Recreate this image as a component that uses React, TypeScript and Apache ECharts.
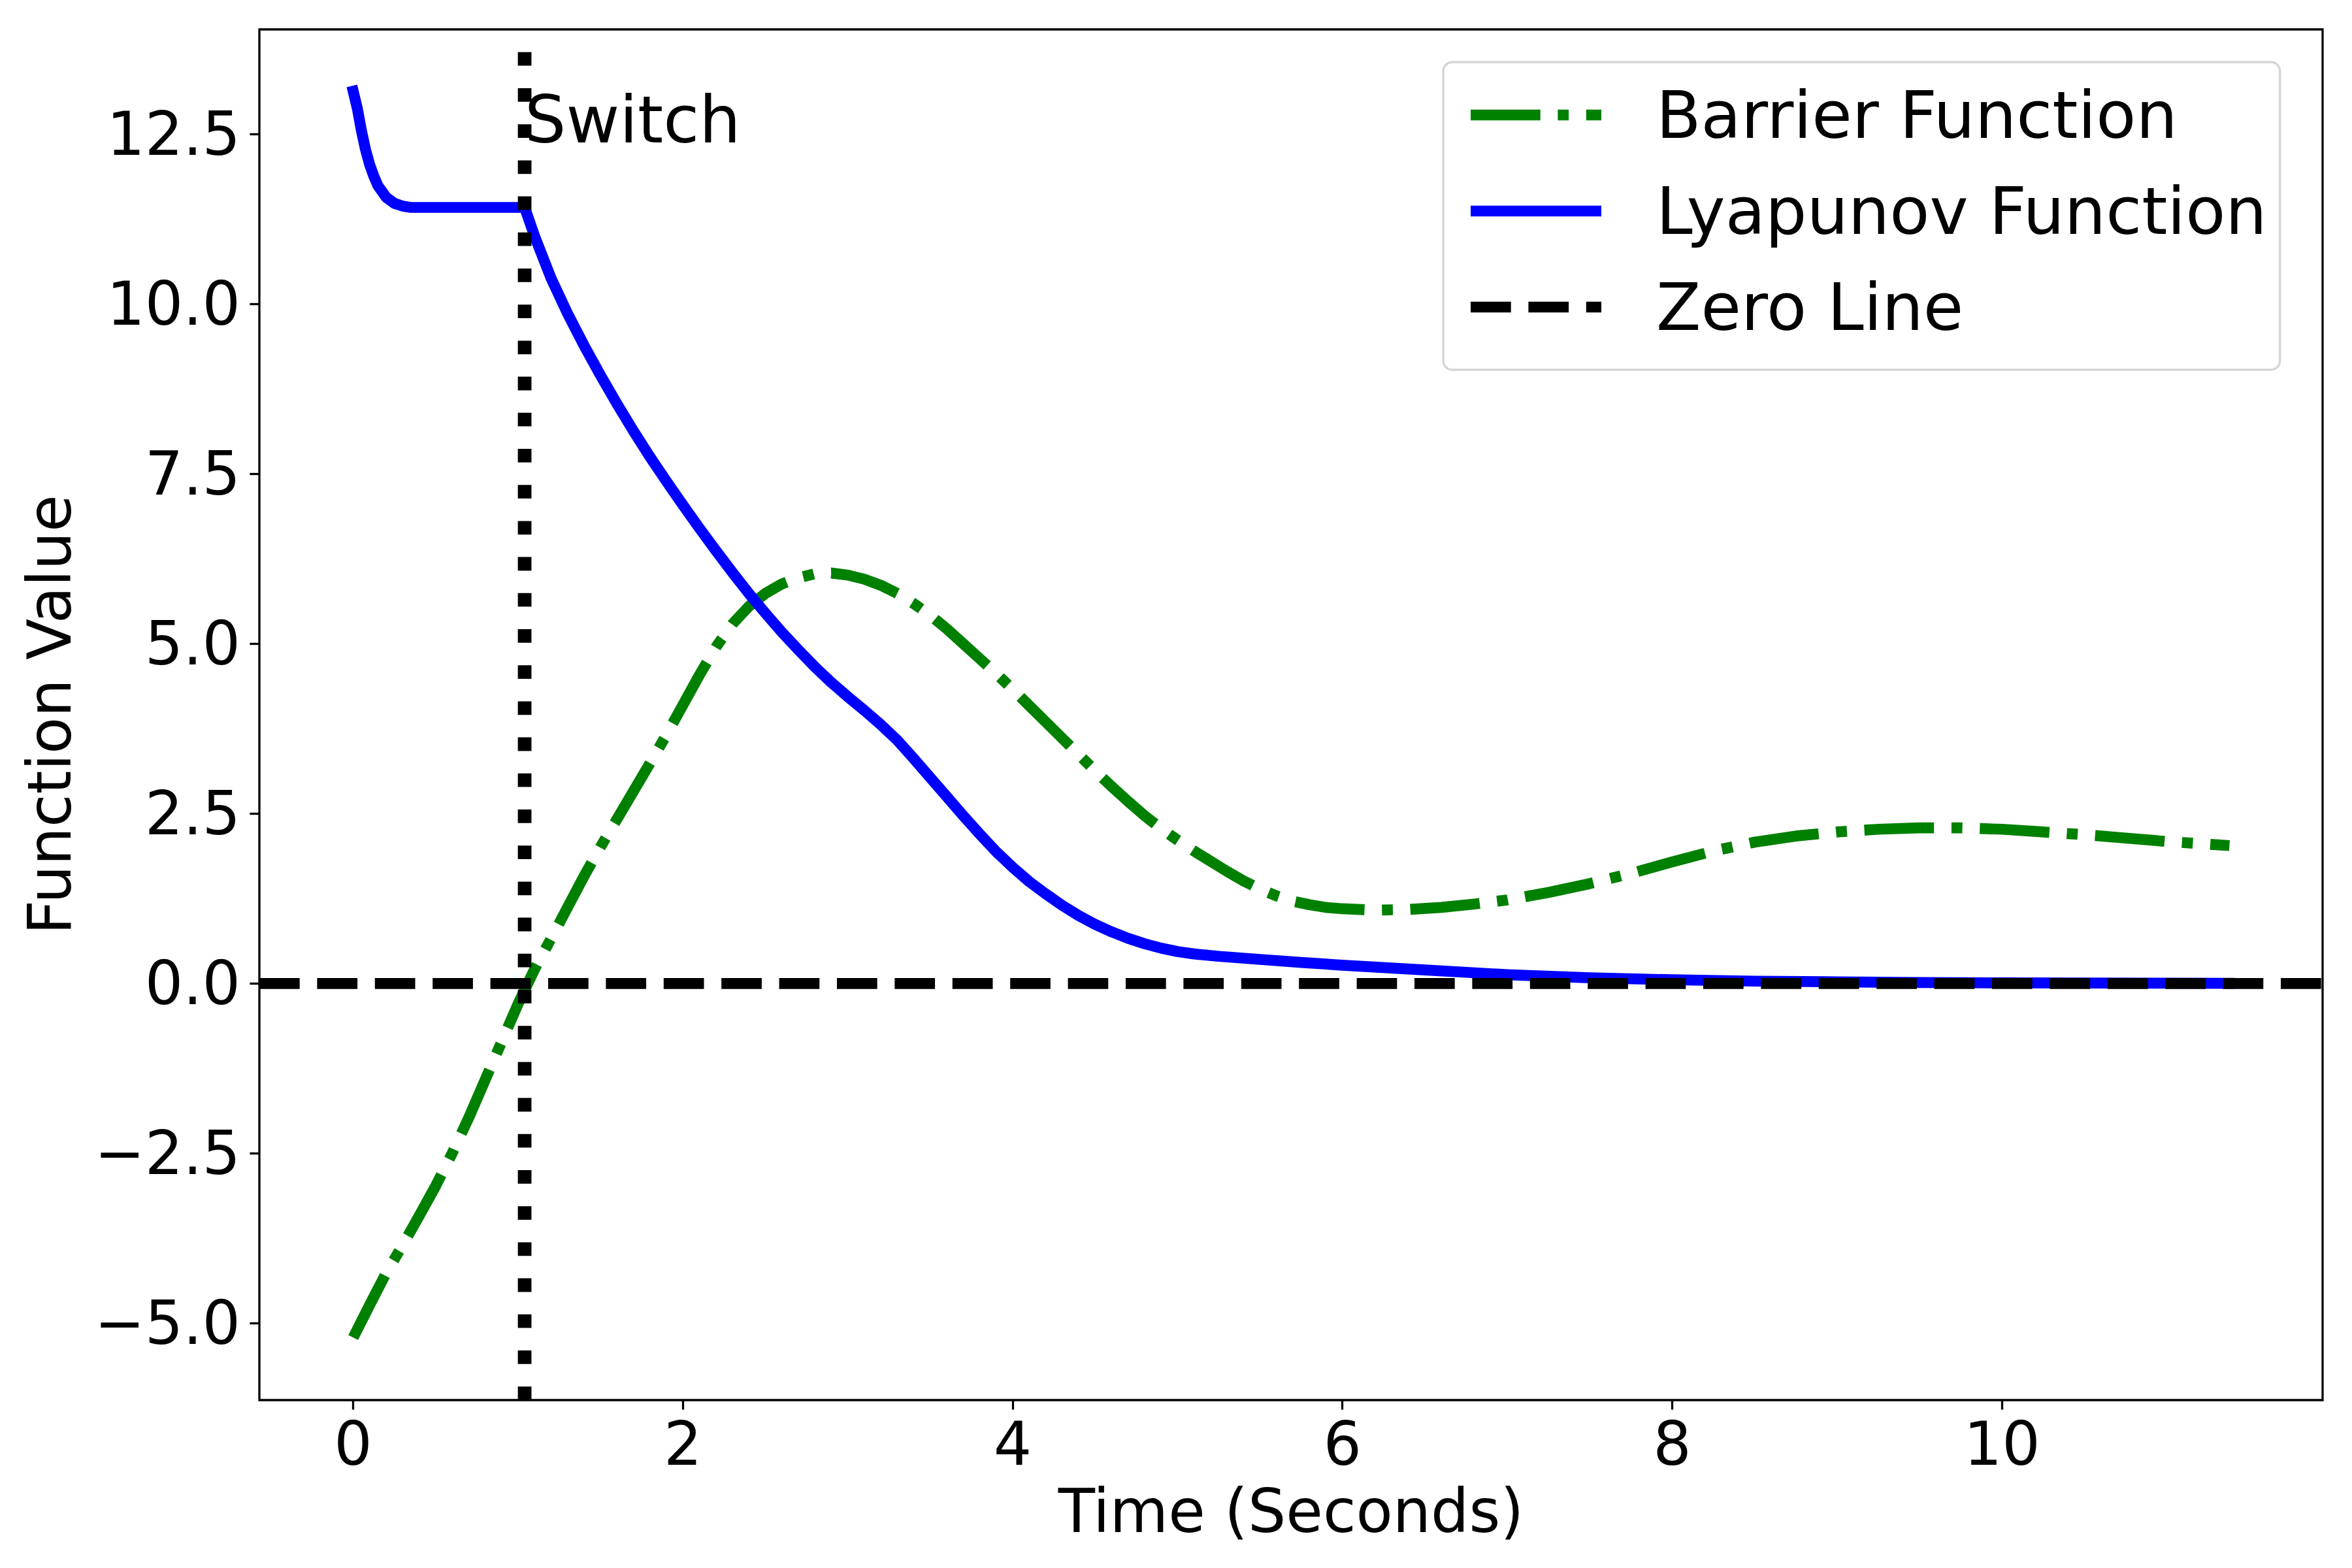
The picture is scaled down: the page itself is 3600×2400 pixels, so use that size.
import React, { useEffect, useRef } from 'react';
import * as echarts from 'echarts';

// ---- data ----
const LYAP_T = [
  0, 0.025, 0.05, 0.075, 0.1, 0.125, 0.15, 0.2, 0.25, 0.3, 0.35, 0.5, 0.7, 0.9, 1.04,
  1.1, 1.2, 1.3, 1.4, 1.5, 1.6, 1.7, 1.8, 1.9, 2.0,
  2.1, 2.2, 2.3, 2.4, 2.5, 2.6, 2.7, 2.8, 2.9, 3.0,
  3.1, 3.2, 3.3, 3.4, 3.5, 3.6, 3.7, 3.8, 3.9, 4.0,
  4.1, 4.2, 4.3, 4.4, 4.5, 4.6, 4.7, 4.8, 4.9, 5.0,
  5.1, 5.25, 5.5, 5.75, 6.0,
  6.5, 7.0, 7.5, 8.0, 8.5, 9.0, 9.5, 10.0, 10.5, 11.0, 11.38,
];
const LYAP_V = [
  13.13, 12.88, 12.55, 12.27, 12.05, 11.88, 11.74, 11.57, 11.48, 11.44, 11.42, 11.42, 11.42, 11.42, 11.42,
  11.0, 10.38, 9.86, 9.39, 8.95, 8.53, 8.13, 7.75, 7.39, 7.04,
  6.7, 6.37, 6.05, 5.74, 5.45, 5.17, 4.91, 4.66, 4.43, 4.22,
  4.02, 3.81, 3.58, 3.31, 3.03, 2.75, 2.47, 2.2, 1.94, 1.71,
  1.5, 1.32, 1.15, 1.0, 0.87, 0.76, 0.665, 0.585, 0.52, 0.47,
  0.435, 0.4, 0.355, 0.31, 0.27,
  0.2, 0.13, 0.085, 0.055, 0.035, 0.025, 0.015, 0.01, 0.007, 0.005, 0.003,
];

const BARRIER_T = [
  0, 0.1, 0.2, 0.3, 0.4, 0.5, 0.6, 0.7, 0.8, 0.9,
  1.0, 1.1, 1.2, 1.3, 1.4, 1.5, 1.6, 1.7, 1.8, 1.9,
  2.0, 2.1, 2.2, 2.3, 2.4, 2.5, 2.6, 2.7, 2.8, 2.9,
  3.0, 3.1, 3.2, 3.3, 3.4, 3.5, 3.6, 3.7, 3.8, 3.9,
  4.0, 4.1, 4.2, 4.3, 4.4, 4.5, 4.6, 4.7, 4.8, 4.9,
  5.0, 5.1, 5.2, 5.3, 5.4, 5.5, 5.6, 5.7, 5.8, 5.9,
  6.0, 6.2, 6.4, 6.6, 6.8, 7.0,
  7.25, 7.5, 7.75, 8.0, 8.25, 8.5, 8.75, 9.0, 9.25, 9.5, 9.75, 10.0, 10.25, 10.5, 10.75, 11.0, 11.25, 11.38,
];
const BARRIER_V = [
  -5.21, -4.73, -4.26, -3.85, -3.42, -2.98, -2.5, -1.98, -1.42, -0.86,
  -0.3, 0.21, 0.66, 1.12, 1.58, 2.01, 2.42, 2.83, 3.24, 3.66,
  4.1, 4.54, 4.95, 5.29, 5.55, 5.74, 5.88, 5.97, 6.03, 6.04,
  6.01, 5.95, 5.86, 5.74, 5.59, 5.42, 5.22, 5.0, 4.78, 4.56,
  4.33, 4.09, 3.85, 3.61, 3.37, 3.13, 2.9, 2.68, 2.47, 2.28,
  2.11, 1.95, 1.8, 1.65, 1.51, 1.39, 1.29, 1.21, 1.16, 1.12,
  1.1, 1.08, 1.09, 1.12, 1.17, 1.23,
  1.34, 1.47, 1.62, 1.79, 1.95, 2.08, 2.17, 2.23, 2.27, 2.29, 2.29, 2.27, 2.23, 2.19, 2.14, 2.09, 2.05, 2.03,
];

const SWITCH_TIME = 1.04;
const SWITCH_LABEL_Y = 12.38;
const ZERO_VALUE = 0;

const X_TICKS = [0, 2, 4, 6, 8, 10];
const Y_TICKS = [-5, -2.5, 0, 2.5, 5, 7.5, 10, 12.5];
const X_RANGE = [-0.569, 11.945];
const Y_RANGE = [-6.13, 14.04];

const NAME_BARRIER = 'Barrier Function';
const NAME_LYAP = 'Lyapunov Function';
const NAME_ZERO = 'Zero Line';
const NAME_SWITCH = 'Switch';
const X_TITLE = 'Time (Seconds)';
const Y_TITLE = 'Function Value';

const FONT = 'DejaVu Sans';

// legend handle glyphs (200 x 16.7), matching the line dash patterns
const ICON_DASHDOT = 'path://M0,0H106.7V16.7H0Z M133.4,0H150.1V16.7H133.4Z M176.8,0H200V16.7H176.8Z';
const ICON_SOLID = 'path://M0,0H200V16.7H0Z';
const ICON_DASHED = 'path://M0,0H61.7V16.7H0Z M88.4,0H150.1V16.7H88.4Z M176.8,0H200V16.7H176.8Z';

export default function App() {
  const ref = useRef<HTMLDivElement>(null);

  useEffect(() => {
    document.body.style.margin = '0';
    const chart = echarts.init(ref.current as HTMLDivElement, null, {
      renderer: 'svg',
      width: 3600,
      height: 2400,
    });
    const zip = (t: number[], v: number[]) => t.map((x, i) => [x, v[i]]);
    const lw = 16.7;

    chart.setOption({
      animation: false,
      backgroundColor: '#ffffff',
      grid: {
        left: 397,
        top: 45,
        width: 3158,
        height: 2098,
        show: true,
        borderColor: '#000000',
        borderWidth: 3.3,
        backgroundColor: 'transparent',
        containLabel: false,
      },
      xAxis: {
        type: 'value',
        min: X_RANGE[0],
        max: X_RANGE[1],
        name: X_TITLE,
        nameLocation: 'middle',
        nameGap: 124,
        nameTextStyle: { fontSize: 92, fontFamily: FONT, color: '#000', lineHeight: 92 },
        axisLine: { show: false, onZero: false },
        axisTick: {
          show: true,
          customValues: X_TICKS,
          length: 14.6,
          lineStyle: { color: '#000', width: 3.3 },
        },
        axisLabel: {
          customValues: X_TICKS,
          fontSize: 92,
          fontFamily: FONT,
          color: '#000',
          margin: 21,
          lineHeight: 92,
          formatter: (v: number) => String(Math.round(v)),
        },
        splitLine: { show: false },
      },
      yAxis: {
        type: 'value',
        min: Y_RANGE[0],
        max: Y_RANGE[1],
        name: Y_TITLE,
        nameLocation: 'middle',
        nameGap: 275,
        nameTextStyle: { fontSize: 92, fontFamily: FONT, color: '#000', lineHeight: 92 },
        axisLine: { show: false, onZero: false },
        axisTick: {
          show: true,
          customValues: Y_TICKS,
          length: 14.6,
          lineStyle: { color: '#000', width: 3.3 },
        },
        axisLabel: {
          customValues: Y_TICKS,
          fontSize: 92,
          fontFamily: FONT,
          color: '#000',
          margin: 29,
          lineHeight: 92,
          formatter: (v: number) => (v < 0 ? '\u2212' : '') + Math.abs(v).toFixed(1),
        },
        splitLine: { show: false },
      },
      legend: {
        data: [
          { name: NAME_BARRIER, icon: ICON_DASHDOT, itemStyle: { color: '#008000', borderWidth: 0 } },
          { name: NAME_LYAP, icon: ICON_SOLID, itemStyle: { color: '#0000ff', borderWidth: 0 } },
          { name: NAME_ZERO, icon: ICON_DASHED, itemStyle: { color: '#000000', borderWidth: 0 } },
        ],
        orient: 'vertical',
        left: 2209,
        top: 95,
        padding: [31, 20, 46, 42],
        itemWidth: 200,
        itemHeight: 16.7,
        itemGap: 47,
        backgroundColor: '#ffffff',
        borderColor: '#d5d5d5',
        borderWidth: 3.3,
        borderRadius: 14,
        selectedMode: false,
        textStyle: {
          fontSize: 100,
          fontFamily: FONT,
          color: '#000',
          lineHeight: 100,
          padding: [0, 0, 0, 79],
        },
      },
      series: [
        {
          name: NAME_BARRIER,
          type: 'line',
          data: zip(BARRIER_T, BARRIER_V),
          showSymbol: false,
          symbol: 'none',
          smooth: false,
          lineStyle: { color: '#008000', width: lw, type: [106.7, 26.7, 16.7, 26.7], cap: 'butt', join: 'round' },
          itemStyle: { color: '#008000' },
          z: 3,
        },
        {
          name: NAME_LYAP,
          type: 'line',
          data: zip(LYAP_T, LYAP_V),
          showSymbol: false,
          symbol: 'none',
          smooth: false,
          lineStyle: { color: '#0000ff', width: lw, type: 'solid', cap: 'square', join: 'round' },
          itemStyle: { color: '#0000ff' },
          z: 4,
        },
        {
          name: NAME_ZERO,
          type: 'line',
          data: [
            [X_RANGE[0], ZERO_VALUE],
            [X_RANGE[1], ZERO_VALUE],
          ],
          showSymbol: false,
          symbol: 'none',
          lineStyle: { color: '#000000', width: lw, type: [61.7, 26.7], cap: 'butt' },
          itemStyle: { color: '#000000' },
          z: 5,
        },
        {
          name: NAME_SWITCH,
          type: 'line',
          data: [
            [SWITCH_TIME, Y_RANGE[0]],
            [SWITCH_TIME, Y_RANGE[1]],
          ],
          showSymbol: false,
          symbol: 'none',
          lineStyle: { color: '#000000', width: 20.8, type: [20.8, 34.4], cap: 'butt' },
          itemStyle: { color: '#000000' },
          z: 6,
        },
      ],
    });

    const p = chart.convertToPixel({ gridIndex: 0 }, [SWITCH_TIME, SWITCH_LABEL_Y]) as number[];
    chart.setOption({
      graphic: [
        {
          type: 'text',
          x: p[0],
          y: p[1] - 34.6,
          z: 10,
          style: {
            text: NAME_SWITCH,
            fontSize: 100,
            fontFamily: FONT,
            fill: '#000000',
            align: 'left',
            verticalAlign: 'middle',
          },
        },
      ],
    });

    return () => chart.dispose();
  }, []);

  return <div ref={ref} style={{ width: 3600, height: 2400 }} />;
}
